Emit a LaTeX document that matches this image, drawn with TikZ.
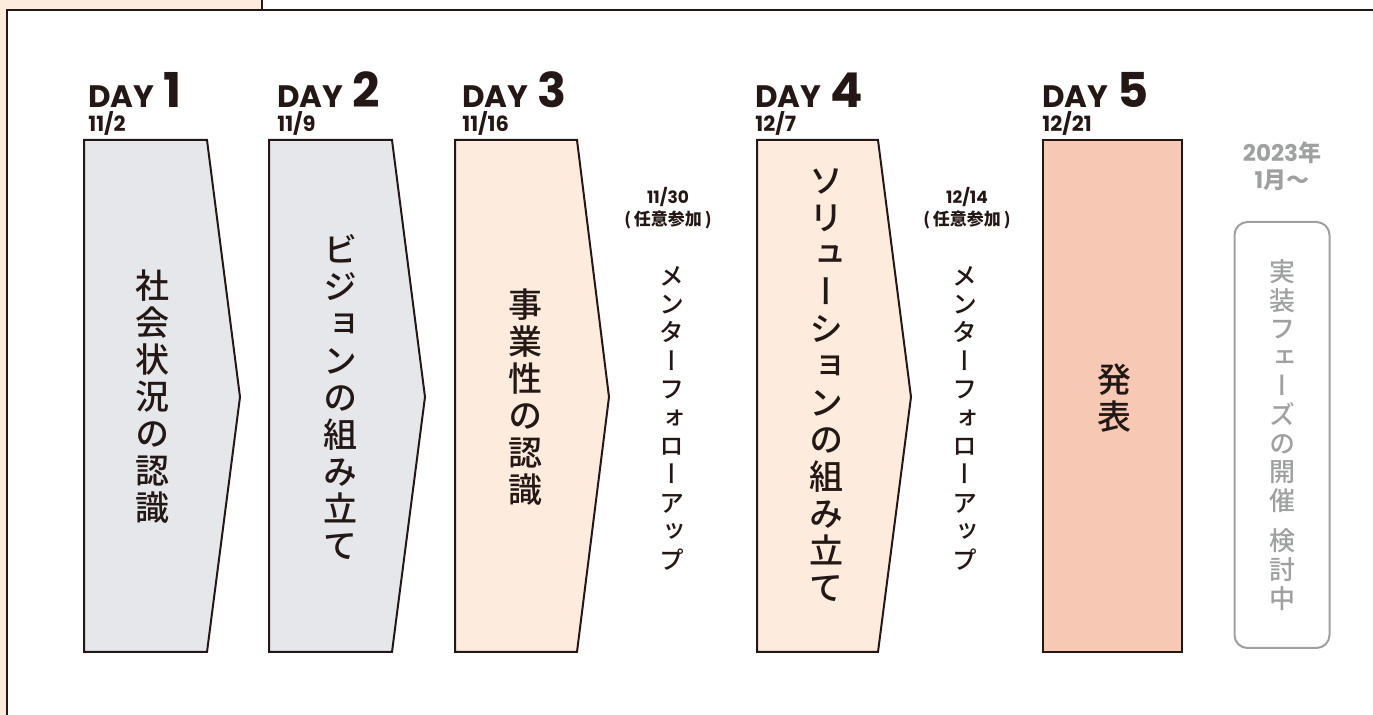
\documentclass[tikz,border=0pt]{standalone}
\usepackage{fontspec}
\usepackage{xcolor}
\usepackage{tikz}
\usetikzlibrary{positioning}
\setmainfont{Poppins}
\newfontfamily\jpfont{Noto Sans CJK JP}
\newfontfamily\jpvfont[UprightFont={* Medium}, RawFeature=+vert]{Noto Sans CJK JP}
\definecolor{ink}{HTML}{231815}
\definecolor{cgray}{HTML}{E6E7EB}
\definecolor{cpeach}{HTML}{FDEBDD}
\definecolor{csalmon}{HTML}{F7C9B5}
\definecolor{cmuted}{HTML}{9FA0A0}
\tikzstyle{frame} = [draw=ink, line width=1.2pt]
\tikzstyle{chev} = [draw=ink, line width=1pt, line join=miter]
\tikzstyle{vtext} = [inner sep=0pt, align=center, text=ink,
    font=\jpvfont\fontsize{17}{18.5}\selectfont]
\tikzstyle{mtext} = [inner sep=0pt, align=center, text=ink,
    font=\jpvfont\fontsize{12.5}{14.2}\selectfont]
\tikzstyle{daylbl} = [inner sep=0pt, text=ink, font=\bfseries\fontsize{15.5}{16}\selectfont]
\tikzstyle{daynum} = [inner sep=0pt, text=ink, font=\bfseries\fontsize{24}{24}\selectfont]
\tikzstyle{datelbl} = [inner sep=0pt, text=ink, anchor=base west,
    font=\bfseries\fontsize{10.5}{10.5}\selectfont]
\tikzstyle{optlbl} = [inner sep=0pt, text=ink, align=center,
    font=\bfseries\fontsize{8.5}{11}\selectfont]
\begin{document}
\begin{tikzpicture}[x=0.5pt, y=-0.5pt]
  \useasboundingbox (0,0) rectangle (1373,715);
  % frame
  \fill[cpeach] (0,0) rectangle (262,10);
  \fill[cpeach] (0,0) rectangle (7,715);
  \draw[frame] (262,0) -- (262,10);
  \draw[frame] (1373,10) -- (7,10) -- (7,715);

  % Place steps
  \draw[chev, fill=cgray] (84,140) -- (207,140) -- (240,397) -- (207,652) -- (84,652) -- cycle;
  \draw[chev, fill=cgray] (269,140) -- (392,140) -- (425,397) -- (392,652) -- (269,652) -- cycle;
  \draw[chev, fill=cpeach] (455,140) -- (577,140) -- (609,397) -- (577,652) -- (455,652) -- cycle;
  \draw[chev, fill=cpeach] (757,140) -- (878,140) -- (911,397) -- (878,652) -- (757,652) -- cycle;
  \draw[chev, fill=csalmon] (1043,140) rectangle (1182,652);

  % DAY labels
  \node[daylbl, anchor=base west] (day1) at (88,108) {DAY};
  \node[daynum, base right=4pt of day1] (num1) {1};
  \node[datelbl] (date1) at (88,132) {11/2};

  \node[daylbl, anchor=base west] (day2) at (277,108) {DAY};
  \node[daynum, base right=4pt of day2] (num2) {2};
  \node[datelbl] (date2) at (277,132) {11/9};

  \node[daylbl, anchor=base west] (day3) at (462,108) {DAY};
  \node[daynum, base right=4pt of day3] (num3) {3};
  \node[datelbl] (date3) at (462,132) {11/16};

  \node[daylbl, anchor=base west] (day4) at (755,108) {DAY};
  \node[daynum, base right=4pt of day4] (num4) {4};
  \node[datelbl] (date4) at (755,132) {12/7};

  \node[daylbl, anchor=base west] (day5) at (1042,108) {DAY};
  \node[daynum, base right=4pt of day5] (num5) {5};
  \node[datelbl] (date5) at (1042,132) {12/21};

  % step texts
  \node[vtext] (step1) at (152,397) {社\\会\\状\\況\\の\\認\\識};
  \node[vtext] (step2) at (340,397) {ビ\\ジ\\ョ\\ン\\の\\組\\み\\立\\て};
  \node[vtext] (step3) at (525,397) {事\\業\\性\\の\\認\\識};
  \node[vtext] (step4) at (826,385) {ソ\\リ\\ュ\\ー\\シ\\ョ\\ン\\の\\組\\み\\立\\て};
  \node[vtext] (step5) at (1114,398) {発\\表};

  % mentor follow-ups
  \node[optlbl] (opt1) at (668,208) {11/30\\{\jpfont\bfseries (\,任意参加\,)}};
  \node[mtext] (mentor1) at (672,418) {メ\\ン\\タ\\ー\\フ\\ォ\\ロ\\ー\\ア\\ッ\\プ};
  \node[optlbl] (opt2) at (967,208) {12/14\\{\jpfont\bfseries (\,任意参加\,)}};
  \node[mtext] (mentor2) at (965,418) {メ\\ン\\タ\\ー\\フ\\ォ\\ロ\\ー\\ア\\ッ\\プ};

  % next phase
  \node[inner sep=0pt, text=cmuted, align=center, font=\bfseries\fontsize{11.5}{13.5}\selectfont]
    (year) at (1282,166) {2023{\jpfont\bfseries 年}\\1{\jpfont\bfseries 月〜}};
  \node[draw=cmuted, line width=1pt, rounded corners=6.5pt, minimum width=47.5pt,
    minimum height=213pt, text=cmuted, align=center,
    font=\jpvfont\fontsize{13}{14.3}\selectfont]
    (phase) at (1282,435) {実\\装\\フ\\ェ\\ー\\ズ\\の\\開\\催\\[6pt]検\\討\\中};
\end{tikzpicture}
\end{document}
